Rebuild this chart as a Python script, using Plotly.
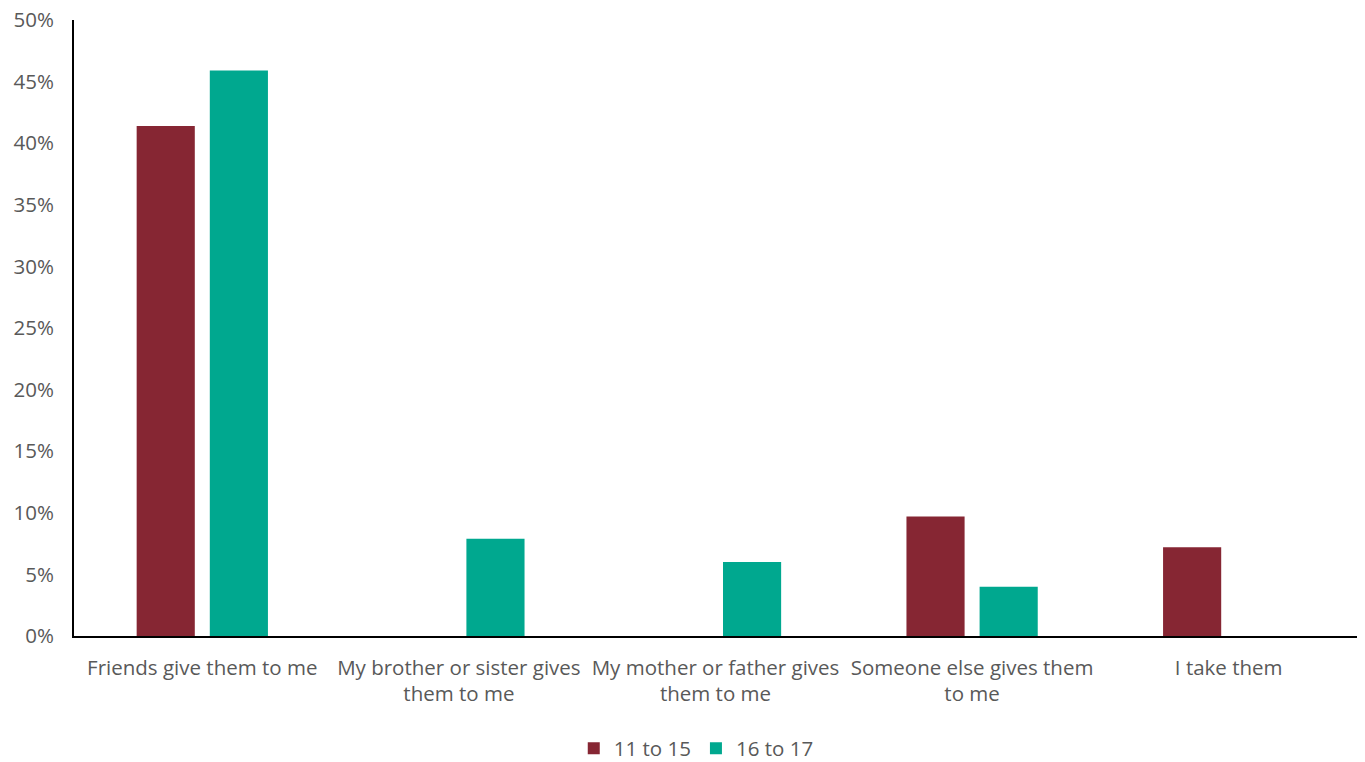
import plotly.graph_objects as go

categories = ["Friends give them to me", "My brother or sister gives<br>them to me",
              "My mother or father gives<br>them to me", "Someone else gives them<br>to me", "I take them"]
age_11_15 = [41.4, None, None, 9.7, 7.2]
age_16_17 = [45.9, 7.9, 6.0, 4.0, None]
tick_vals = [0, 5, 10, 15, 20, 25, 30, 35, 40, 45, 50]
tick_text = [f"{v}%" for v in tick_vals]

font = dict(family="'Open Sans', sans-serif", size=20.5, color="#595959")

fig = go.Figure()
fig.add_trace(go.Bar(x=categories, y=age_11_15, name="11 to 15", marker_color="#862633",
                     marker_line_width=0))
fig.add_trace(go.Bar(x=categories, y=age_16_17, name="16 to 17", marker_color="#00A88F",
                     marker_line_width=0))
fig.update_layout(
    width=1365, height=762,
    margin=dict(l=74, r=8, t=20, b=126, autoexpand=False),
    plot_bgcolor="white", paper_bgcolor="white",
    font=font,
    barmode="group", bargap=0.43, bargroupgap=0.205,
    showlegend=True,
    legend=dict(orientation="h", x=0.485, xanchor="center", y=-0.15, yanchor="top",
                font=font, itemwidth=30),
    xaxis=dict(showline=True, linecolor="black", linewidth=2, ticks="outside",
               ticklen=12, tickcolor="rgba(0,0,0,0)", tickfont=font, automargin=False),
    yaxis=dict(range=[0, 50], tickvals=tick_vals, ticktext=tick_text, showgrid=False,
               showline=True, linecolor="black", linewidth=2, ticks="outside", ticklen=14,
               tickcolor="rgba(0,0,0,0)", tickfont=font, zeroline=False, automargin=False),
)
fig.write_html("out.html", config={"displayModeBar": False},
               post_script="document.body.style.margin='0';")
